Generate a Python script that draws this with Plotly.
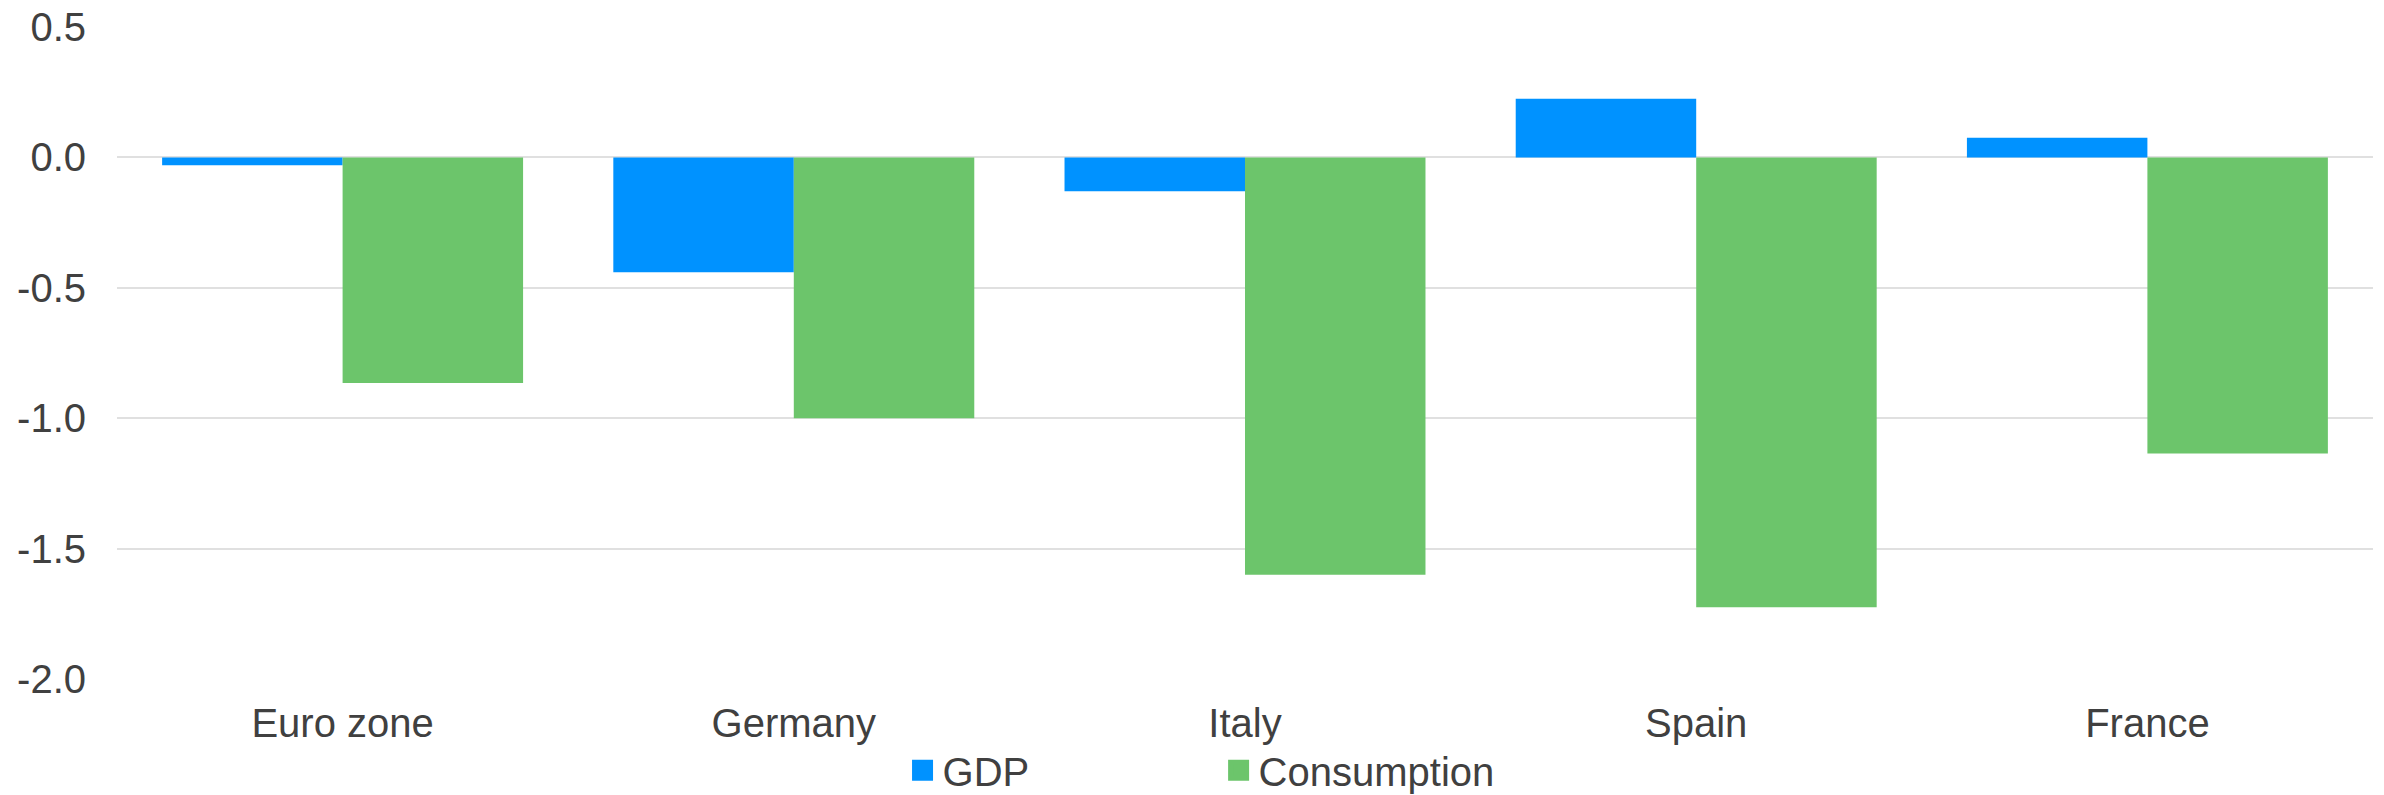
import plotly.graph_objects as go

categories = ["Euro zone", "Germany", "Italy", "Spain", "France"]
gdp = [-0.03, -0.44, -0.13, 0.225, 0.075]
consumption = [-0.865, -1.00, -1.60, -1.725, -1.135]
y_ticks = [0.5, 0.0, -0.5, -1.0, -1.5, -2.0]
y_tick_labels = ["0.5", "0.0", "-0.5", "-1.0", "-1.5", "-2.0"]

FONT = "Liberation Sans, Arial, sans-serif"
TEXT = "#404040"
BLUE = "#0092FF"
GREEN = "#6CC56B"
FS = 40

fig = go.Figure()
fig.add_trace(go.Bar(name="GDP", x=categories, y=gdp, marker_color=BLUE,
                     marker_line_width=0, showlegend=False))
fig.add_trace(go.Bar(name="Consumption", x=categories, y=consumption,
                     marker_color=GREEN, marker_line_width=0, showlegend=False))
# legend proxies (square swatches), one legend each for exact placement
for name, col, lg in [("GDP", BLUE, "legend"), ("Consumption", GREEN, "legend2")]:
    fig.add_trace(go.Scatter(name=name, x=[None], y=[None], mode="markers",
                             marker=dict(symbol="square", size=16, color=col,
                                         line=dict(color=col, width=5)),
                             showlegend=True, hoverinfo="skip", legend=lg))

legend_common = dict(orientation="h", yanchor="middle", y=-0.140,
                     font=dict(family=FONT, size=FS, color=TEXT),
                     bgcolor="rgba(0,0,0,0)", maxheight=300)

fig.update_layout(
    width=2384, height=795,
    margin=dict(l=117, r=11, t=27, b=116, autoexpand=False),
    paper_bgcolor="white", plot_bgcolor="white",
    barmode="group", bargap=0.2, bargroupgap=0,
    font=dict(family=FONT, size=FS, color=TEXT),
    showlegend=True,
    legend=dict(xanchor="left", x=0.3482, **legend_common),
    legend2=dict(xanchor="left", x=0.4883, **legend_common),
)
fig.update_xaxes(showgrid=False, showline=False, zeroline=False, ticks="",
                 tickfont=dict(family=FONT, size=FS, color=TEXT),
                 ticklabelstandoff=17)
fig.update_yaxes(range=[-2.0, 0.5], tickvals=y_ticks, ticktext=y_tick_labels,
                 showgrid=True, gridcolor="#E0E0E0", gridwidth=2,
                 zeroline=False, showline=False, ticks="",
                 tickfont=dict(family=FONT, size=FS, color=TEXT),
                 ticklabelstandoff=30)

fig.write_html("out.html")
